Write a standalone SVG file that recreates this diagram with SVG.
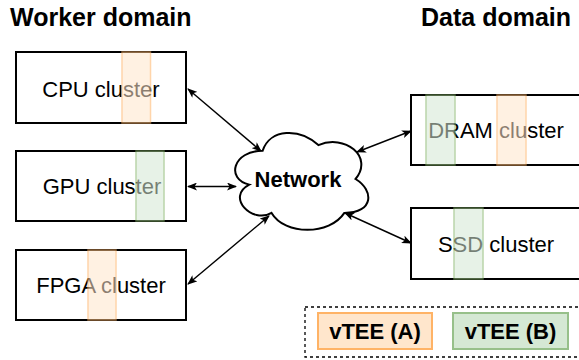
<svg xmlns="http://www.w3.org/2000/svg" width="579" height="360" viewBox="0 0 579 360">
  <style>
    .title { font-family: "Liberation Sans", Arial, sans-serif; font-weight: bold; font-size: 25px; fill: #000; }
    .box { fill: #fff; stroke: #000; stroke-width: 2; }
    .label { font-family: "Liberation Sans", Arial, sans-serif; font-size: 22px; fill: #000; text-anchor: middle; }
    .bold { font-family: "Liberation Sans", Arial, sans-serif; font-size: 22px; font-weight: bold; fill: #000; text-anchor: middle; }
    .tee-a { fill: #ffe6cc; stroke: #ffb366; stroke-width: 1.5; opacity: 0.55; }
    .tee-b { fill: #d5e8d4; stroke: #82b366; stroke-width: 1.5; opacity: 0.55; }
    .link { fill: none; stroke: #000; stroke-width: 1.4; marker-start: url(#ah); marker-end: url(#ah); }
  </style>
  <defs>
    <marker id="ah" viewBox="0 0 10 8" refX="9" refY="4" markerWidth="10" markerHeight="8" orient="auto-start-reverse" markerUnits="userSpaceOnUse">
      <path d="M0,0 L10,4 L0,8 L2.5,4 z" fill="#000"/>
    </marker>
  </defs>

  <rect width="579" height="360" fill="#fff"/>

  <!-- headings -->
  <text class="title" x="10" y="26">Worker domain</text>
  <text class="title" x="421" y="26">Data domain</text>

  <!-- connectors -->
  <g id="connectors">
    <line class="link" x1="188" y1="89" x2="261" y2="151"/>
    <line class="link" x1="188" y1="186.5" x2="236" y2="186.5"/>
    <line class="link" x1="188" y1="284" x2="269" y2="216"/>
    <line class="link" x1="357" y1="152" x2="411" y2="131"/>
    <line class="link" x1="345" y1="213" x2="411" y2="243"/>
  </g>

  <!-- worker side -->
  <g id="cpu">
    <rect class="box" x="16" y="52" width="170" height="71"/>
    <text class="label" x="101" y="97">CPU cluster</text>
    <rect class="tee-a" x="122" y="52" width="28.5" height="71"/>
  </g>
  <g id="gpu">
    <rect class="box" x="16" y="151" width="170" height="70"/>
    <text class="label" x="102" y="194">GPU cluster</text>
    <rect class="tee-b" x="136" y="151" width="28" height="70"/>
  </g>
  <g id="fpga">
    <rect class="box" x="16" y="250" width="170" height="70"/>
    <text class="label" x="101" y="293">FPGA cluster</text>
    <rect class="tee-a" x="88" y="250" width="28" height="70"/>
  </g>

  <!-- network -->
  <g id="network">
    <path d="M262.65,150.75 C232.93,150.75 225.5,179 249.28,184.65 C225.5,197.08 252.25,224.2 271.57,212.9 C284.94,235.5 329.52,235.5 344.38,212.9 C374.1,212.9 374.1,190.3 355.53,179 C374.1,156.4 344.38,133.8 318.38,145.1 C299.8,128.15 270.08,128.15 262.65,150.75 Z" fill="#fff" stroke="#000" stroke-width="2"/>
    <text class="bold" x="298" y="187">Network</text>
  </g>

  <!-- data side -->
  <g id="dram">
    <rect class="box" x="411" y="95" width="170" height="70"/>
    <text class="label" x="496" y="138">DRAM cluster</text>
    <rect class="tee-b" x="426" y="95" width="29" height="70"/>
    <rect class="tee-a" x="497" y="95" width="29" height="70"/>
  </g>
  <g id="ssd">
    <rect class="box" x="411" y="208" width="170" height="71"/>
    <text class="label" x="496" y="251.5">SSD cluster</text>
    <rect class="tee-b" x="454" y="208" width="29" height="71"/>
  </g>

  <!-- legend -->
  <g id="legend">
    <rect x="305" y="307" width="285" height="50" fill="none" stroke="#000" stroke-width="1.3" stroke-dasharray="3 3"/>
    <rect x="318" y="313" width="114" height="36" fill="#ffe6cc" stroke="#ffb366" stroke-width="2"/>
    <text class="bold" x="375" y="339">vTEE (A)</text>
    <rect x="453" y="313" width="115" height="36" fill="#d5e8d4" stroke="#97c08a" stroke-width="2"/>
    <text class="bold" x="510.5" y="339">vTEE (B)</text>
  </g>
</svg>
